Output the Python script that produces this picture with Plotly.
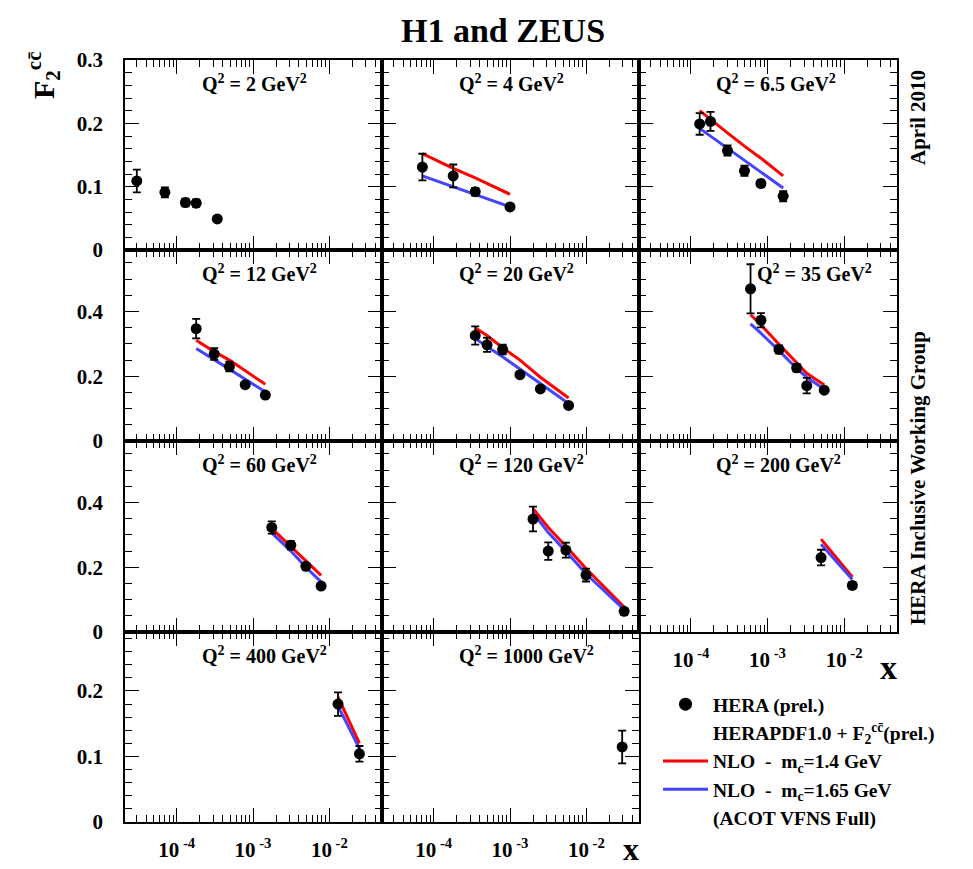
import math
import plotly.graph_objects as go

W, H = 973, 869
OFF = 8  # the page body margin shifts the figure by 8 px

# ---------------- data ----------------
Q2_VALUES = ["2", "4", "6.5", "12", "20", "35", "60", "120", "200", "400", "1000"]

X_Q2_2 = [3.0e-5, 7.0e-5, 1.3e-4, 1.8e-4, 3.4e-4]
F2_Q2_2 = [0.109, 0.091, 0.075, 0.074, 0.049]
ERR_Q2_2 = [0.018, 0.008, 0.006, 0.006, 0.003]
RED_Q2_2 = []
BLUE_Q2_2 = []

X_Q2_4 = [7.1e-5, 1.8e-4, 3.5e-4, 1.0e-3]
F2_Q2_4 = [0.131, 0.117, 0.092, 0.068]
ERR_Q2_4 = [0.021, 0.018, 0.006, 0.005]
RED_Q2_4 = [0.152, 0.129, 0.114, 0.088]
BLUE_Q2_4 = [0.117, 0.100, 0.088, 0.068]

X_Q2_6p5 = [1.3e-4, 1.8e-4, 3.0e-4, 5.0e-4, 8.2e-4, 1.6e-3]
F2_Q2_6p5 = [0.199, 0.203, 0.157, 0.125, 0.105, 0.085]
ERR_Q2_6p5 = [0.017, 0.015, 0.008, 0.008, 0.005, 0.008]
RED_Q2_6p5 = [0.220, 0.206, 0.185, 0.164, 0.145, 0.117]
BLUE_Q2_6p5 = [0.192, 0.180, 0.161, 0.141, 0.123, 0.098]

X_Q2_12 = [1.8e-4, 3.1e-4, 4.9e-4, 7.9e-4, 1.45e-3]
F2_Q2_12 = [0.347, 0.269, 0.230, 0.174, 0.142]
ERR_Q2_12 = [0.030, 0.018, 0.015, 0.006, 0.006]
RED_Q2_12 = [0.311, 0.276, 0.250, 0.216, 0.175]
BLUE_Q2_12 = [0.286, 0.250, 0.222, 0.191, 0.152]

X_Q2_20 = [3.5e-4, 5.0e-4, 8.0e-4, 1.35e-3, 2.5e-3, 5.85e-3]
F2_Q2_20 = [0.326, 0.297, 0.283, 0.205, 0.161, 0.110]
ERR_Q2_20 = [0.028, 0.022, 0.015, 0.006, 0.005, 0.005]
RED_Q2_20 = [0.349, 0.326, 0.288, 0.250, 0.197, 0.133]
BLUE_Q2_20 = [0.317, 0.291, 0.260, 0.222, 0.175, 0.116]

X_Q2_35 = [6.0e-4, 8.2e-4, 1.41e-3, 2.4e-3, 3.25e-3, 5.5e-3]
F2_Q2_35 = [0.470, 0.373, 0.283, 0.226, 0.171, 0.157]
ERR_Q2_35 = [0.076, 0.022, 0.012, 0.012, 0.024, 0.005]
RED_Q2_35 = [0.390, 0.359, 0.299, 0.240, 0.209, 0.173]
BLUE_Q2_35 = [0.362, 0.333, 0.279, 0.224, 0.197, 0.160]

X_Q2_60 = [1.76e-3, 3.13e-3, 4.93e-3, 7.8e-3]
F2_Q2_60 = [0.323, 0.268, 0.203, 0.142]
ERR_Q2_60 = [0.019, 0.013, 0.005, 0.005]
RED_Q2_60 = [0.320, 0.265, 0.220, 0.175]
BLUE_Q2_60 = [0.306, 0.250, 0.200, 0.155]

X_Q2_120 = [2.0e-3, 3.17e-3, 5.4e-3, 9.9e-3, 3.13e-2]
F2_Q2_120 = [0.349, 0.250, 0.253, 0.176, 0.064]
ERR_Q2_120 = [0.038, 0.027, 0.023, 0.020, 0.010]
RED_Q2_120 = [0.381, 0.323, 0.265, 0.196, 0.077]
BLUE_Q2_120 = [0.368, 0.307, 0.249, 0.180, 0.069]

X_Q2_200 = [5.0e-3, 1.28e-2]
F2_Q2_200 = [0.230, 0.144]
ERR_Q2_200 = [0.024, 0.010]
RED_Q2_200 = [0.287, 0.170]
BLUE_Q2_200 = [0.271, 0.162]

X_Q2_400 = [1.3e-2, 2.48e-2]
F2_Q2_400 = [0.180, 0.104]
ERR_Q2_400 = [0.018, 0.012]
RED_Q2_400 = [0.191, 0.120]
BLUE_Q2_400 = [0.177, 0.112]

X_Q2_1000 = [2.95e-2]
F2_Q2_1000 = [0.1145]
ERR_Q2_1000 = [0.025]
RED_Q2_1000 = []
BLUE_Q2_1000 = []

X_TICK_VALUES = [1e-4, 1e-3, 1e-2]
X_TICK_LABELS = ["10<sup> -4</sup>", "10<sup> -3</sup>", "10<sup> -2</sup>"]

PANELS = [
    (X_Q2_2, F2_Q2_2, ERR_Q2_2, RED_Q2_2, BLUE_Q2_2),
    (X_Q2_4, F2_Q2_4, ERR_Q2_4, RED_Q2_4, BLUE_Q2_4),
    (X_Q2_6p5, F2_Q2_6p5, ERR_Q2_6p5, RED_Q2_6p5, BLUE_Q2_6p5),
    (X_Q2_12, F2_Q2_12, ERR_Q2_12, RED_Q2_12, BLUE_Q2_12),
    (X_Q2_20, F2_Q2_20, ERR_Q2_20, RED_Q2_20, BLUE_Q2_20),
    (X_Q2_35, F2_Q2_35, ERR_Q2_35, RED_Q2_35, BLUE_Q2_35),
    (X_Q2_60, F2_Q2_60, ERR_Q2_60, RED_Q2_60, BLUE_Q2_60),
    (X_Q2_120, F2_Q2_120, ERR_Q2_120, RED_Q2_120, BLUE_Q2_120),
    (X_Q2_200, F2_Q2_200, ERR_Q2_200, RED_Q2_200, BLUE_Q2_200),
    (X_Q2_400, F2_Q2_400, ERR_Q2_400, RED_Q2_400, BLUE_Q2_400),
    (X_Q2_1000, F2_Q2_1000, ERR_Q2_1000, RED_Q2_1000, BLUE_Q2_1000),
]

# ---------------- styling / layout ----------------
SERIF = "Liberation Serif"
RED = "#ff0000"
BLUE = "#4444ff"
CCBAR = "cc\u0304"


def px(x):
    return (x - OFF) / W


def py(y):
    return 1 - (y - OFF) / H


COL_PX = [(125, 382), (382, 639), (639, 897)]
ROW_PX = [(60, 250), (250, 441), (441, 632), (632, 822)]
ROW_YMAX = [0.3, 0.59, 0.59, 0.29]
ROW_DTICK = [0.1, 0.2, 0.2, 0.1]
ROW_MINOR = [0.02, 0.05, 0.05, 0.02]
XRANGE = [math.log10(2.1e-5), math.log10(0.049)]
MINOR_X = [m * 10.0 ** e for e in (-5, -4, -3, -2) for m in range(2, 10)
           if 2.1e-5 < m * 10.0 ** e < 0.049]
SHOW_XLABELS = {8, 9, 10}
LABEL_OFFSET = {5: 116}


def font(size):
    return dict(family=SERIF, size=size, color="black", weight="bold")


fig = go.Figure()
layout = {}

for i, (xs, ys, es, red, blue) in enumerate(PANELS):
    row, col = divmod(i, 3)
    n = "" if i == 0 else str(i + 1)
    xa, ya = "x" + n, "y" + n
    x0, x1 = COL_PX[col]
    y0, y1 = ROW_PX[row]

    layout["xaxis" + n] = dict(
        type="log", range=XRANGE, domain=[px(x0), px(x1)], anchor=ya,
        showline=True, linecolor="black", linewidth=1.5, mirror="ticks",
        ticks="inside", ticklen=14, tickwidth=1.4, tickcolor="black",
        tickmode="array", tickvals=X_TICK_VALUES, ticktext=X_TICK_LABELS,
        showticklabels=i in SHOW_XLABELS, ticklabelstandoff=8,
        tickfont=font(21), automargin=False,
        minor=dict(tickmode="array", tickvals=MINOR_X, ticklen=7, tickwidth=1.2,
                   tickcolor="black", ticks="inside", showgrid=False),
        showgrid=False, zeroline=False, fixedrange=True,
    )
    layout["yaxis" + n] = dict(
        range=[0, ROW_YMAX[row]], domain=[py(y1), py(y0)], anchor=xa,
        showline=True, linecolor="black", linewidth=1.5, mirror="ticks",
        ticks="inside", ticklen=14, tickwidth=1.4, tickcolor="black",
        tick0=0, dtick=ROW_DTICK[row],
        showticklabels=col == 0, ticklabelstandoff=16,
        tickfont=font(21), automargin=False,
        minor=dict(tick0=0, dtick=ROW_MINOR[row], ticklen=7, tickwidth=1.2,
                   tickcolor="black", ticks="inside", showgrid=False),
        showgrid=False, zeroline=False, fixedrange=True,
    )

    if red:
        fig.add_trace(go.Scatter(x=xs, y=red, mode="lines", xaxis=xa, yaxis=ya,
                                 line=dict(color=RED, width=3), showlegend=False))
    if blue:
        fig.add_trace(go.Scatter(x=xs, y=blue, mode="lines", xaxis=xa, yaxis=ya,
                                 line=dict(color=BLUE, width=3), showlegend=False))
    fig.add_trace(go.Scatter(
        x=xs, y=ys, mode="markers", xaxis=xa, yaxis=ya, showlegend=False,
        marker=dict(color="black", size=11),
        error_y=dict(type="data", array=es, visible=True, color="black",
                     thickness=1.8, width=4)))

    off = LABEL_OFFSET.get(i, 75)
    fig.add_annotation(
        xref=xa + " domain", yref=ya + " domain",
        x=off / (x1 - x0), y=1 - 23 / (y1 - y0), xanchor="left", yanchor="middle",
        text=f"Q<sup>2</sup> = {Q2_VALUES[i]} GeV<sup>2</sup>", showarrow=False,
        font=font(20))

# legend entries
CLEAR = dict(mode="markers", marker=dict(color="rgba(0,0,0,0)", size=1))
LEG = [
    ("HERA (prel.)", dict(mode="markers", marker=dict(color="black", size=13))),
    (f"HERAPDF1.0 + F<sub>2</sub><sup>{CCBAR}</sup>(prel.)", CLEAR),
    ("NLO\u00a0\u00a0-\u00a0\u00a0m<sub>c</sub>=1.4 GeV",
     dict(mode="lines", line=dict(color=RED, width=3))),
    ("NLO\u00a0\u00a0-\u00a0\u00a0m<sub>c</sub>=1.65 GeV",
     dict(mode="lines", line=dict(color=BLUE, width=3))),
    ("(ACOT VFNS Full)", CLEAR),
]
for k, (name, kw) in enumerate(LEG):
    fig.add_trace(go.Scatter(x=[None], y=[None], name=name, legendrank=k + 1,
                             showlegend=True, **kw))

fig.add_annotation(xref="paper", yref="paper", x=px(503), y=py(30),
                   xanchor="center", yanchor="middle",
                   text="H1 and ZEUS", showarrow=False, font=font(34))
fig.add_annotation(xref="paper", yref="paper", x=px(44), y=py(76),
                   xanchor="center", yanchor="middle",
                   text=f"F<sub>2</sub><sup>{CCBAR}</sup>", textangle=-90, showarrow=False,
                   font=font(30))
fig.add_annotation(xref="paper", yref="paper", x=px(918), y=py(118),
                   xanchor="center", yanchor="middle",
                   text="April 2010", textangle=-90, showarrow=False, font=font(21))
fig.add_annotation(xref="paper", yref="paper", x=px(918), y=py(478),
                   xanchor="center", yanchor="middle",
                   text="HERA Inclusive Working Group", textangle=-90, showarrow=False,
                   font=font(21))
for xa_px, ya_px, fsz in [(899, 667, 34), (641, 849, 32)]:
    fig.add_annotation(xref="paper", yref="paper", x=px(xa_px), y=py(ya_px),
                       xanchor="right", yanchor="middle",
                       text="x", showarrow=False, font=font(fsz))

fig.update_layout(
    width=W, height=H, margin=dict(l=0, r=0, t=0, b=0, pad=0, autoexpand=False),
    paper_bgcolor="white", plot_bgcolor="white",
    showlegend=True,
    legend=dict(x=px(658), y=py(685), xanchor="left", yanchor="top",
                bgcolor="rgba(0,0,0,0)", borderwidth=0, itemclick=False,
                itemwidth=45, font=font(19.5)),
    **layout,
)

fig.write_html("out.html")
